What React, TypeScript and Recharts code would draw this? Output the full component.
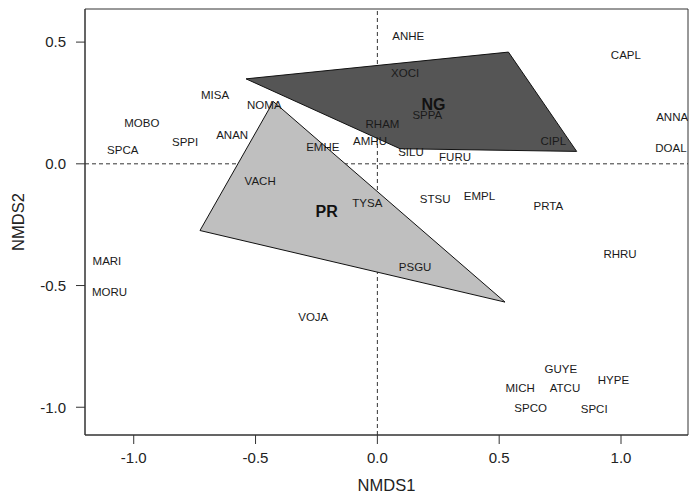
import React from 'react';
import {
  ScatterChart,
  Scatter,
  XAxis,
  YAxis,
  ReferenceLine,
  ReferenceArea,
} from 'recharts';

// species scores (NMDS1, NMDS2)
const speciesNames = [
  'ANHE', 'XOCI', 'SPPA', 'RHAM', 'AMHU', 'SILU', 'FURU', 'NOMA', 'EMHE', 'ANAN',
  'VACH', 'MISA', 'MOBO', 'SPPI', 'SPCA', 'CAPL', 'ANNA', 'DOAL', 'CIPL', 'EMPL',
  'PRTA', 'RHRU', 'STSU', 'TYSA', 'PSGU', 'VOJA', 'MARI', 'MORU', 'GUYE', 'HYPE',
  'MICH', 'ATCU', 'SPCO', 'SPCI',
];
const speciesX = [
  0.127, 0.114, 0.205, 0.021, -0.03, 0.138, 0.319, -0.464, -0.224, -0.596,
  -0.481, -0.666, -0.967, -0.789, -1.045, 1.02, 1.21, 1.205, 0.722, 0.419,
  0.702, 0.996, 0.237, -0.041, 0.155, -0.263, -1.11, -1.099, 0.753, 0.969,
  0.586, 0.77, 0.629, 0.89,
];
const speciesY = [
  0.527, 0.373, 0.199, 0.163, 0.092, 0.048, 0.03, 0.243, 0.071, 0.119,
  -0.07, 0.281, 0.167, 0.089, 0.056, 0.448, 0.194, 0.064, 0.092, -0.132,
  -0.175, -0.371, -0.144, -0.162, -0.422, -0.628, -0.399, -0.525, -0.844, -0.888,
  -0.922, -0.922, -1.004, -1.008,
];

// group centroid labels
const groupNames = ['NG', 'PR'];
const groupX = [0.23, -0.208];
const groupY = [0.243, -0.196];

// convex hulls
const ngHullX = [-0.539, 0.538, 0.818, 0.093];
const ngHullY = [0.349, 0.459, 0.051, 0.062];
const prHullX = [-0.427, -0.728, 0.524];
const prHullY = [0.256, -0.274, -0.568];

const xTicks = [-1, -0.5, 0, 0.5, 1];
const yTicks = [-1, -0.5, 0, 0.5];

const X_DOMAIN: [number, number] = [-1.2, 1.275];
const Y_DOMAIN: [number, number] = [-1.114, 0.636];

const species = speciesNames.map((name, i) => ({ name, x: speciesX[i], y: speciesY[i] }));
const groups = groupNames.map((name, i) => ({ name, x: groupX[i], y: groupY[i] }));
const ngHull = ngHullX.map((x, i) => ({ x, y: ngHullY[i] }));
const prHull = prHullX.map((x, i) => ({ x, y: prHullY[i] }));

const FONT = '"Liberation Sans", Arial, sans-serif';
const AXIS = '#333';

const polygon = (fill: string) => (props: any) => {
  const pts = (props.points || []).map((p: any) => `${p.x},${p.y}`).join(' ');
  return <polygon points={pts} fill={fill} stroke="#111" strokeWidth={1} />;
};

const noDot = () => <g />;

const speciesLabel = (props: any) => (
  <text
    x={props.cx}
    y={props.cy}
    textAnchor="middle"
    dominantBaseline="central"
    fontSize={11.5}
    fontFamily={FONT}
    fill="#1a1a1a"
  >
    {props.payload.name}
  </text>
);

const groupLabel = (props: any) => (
  <text
    x={props.cx}
    y={props.cy}
    textAnchor="middle"
    dominantBaseline="central"
    fontSize={16}
    fontWeight="bold"
    fontFamily={FONT}
    fill="#111"
  >
    {props.payload.name}
  </text>
);

const fmt = (v: number) => v.toFixed(1);

export default function App() {
  return (
    <div style={{ position: 'absolute', left: 0, top: 0, background: '#fff' }}>
      <ScatterChart
        width={689}
        height={494}
        margin={{ top: 9, right: 1, bottom: 0, left: 0 }}
      >
        <XAxis
          type="number"
          dataKey="x"
          domain={X_DOMAIN}
          ticks={xTicks}
          tickFormatter={fmt}
          allowDataOverflow
          height={59}
          tickSize={9}
          tickMargin={8}
          stroke={AXIS}
          tick={{ fill: '#222', fontSize: 15, fontFamily: FONT }}
          label={{
            value: 'NMDS1',
            position: 'insideBottom',
            offset: 3,
            fill: '#222',
            fontSize: 16.5,
            fontFamily: FONT,
          }}
        />
        <YAxis
          type="number"
          dataKey="y"
          domain={Y_DOMAIN}
          ticks={yTicks}
          tickFormatter={fmt}
          allowDataOverflow
          width={85}
          tickSize={9}
          tickMargin={10}
          stroke={AXIS}
          tick={{ fill: '#222', fontSize: 15, fontFamily: FONT }}
          label={{
            value: 'NMDS2',
            angle: -90,
            position: 'insideLeft',
            offset: 18,
            fill: '#222',
            fontSize: 16.5,
            fontFamily: FONT,
            style: { textAnchor: 'middle' },
          }}
        />
        <ReferenceArea
          x1={X_DOMAIN[0]}
          x2={X_DOMAIN[1]}
          y1={Y_DOMAIN[0]}
          y2={Y_DOMAIN[1]}
          fill="none"
          stroke={AXIS}
          strokeWidth={1}
          ifOverflow="visible"
        />
        <Scatter
          data={ngHull}
          line={polygon('#555555')}
          shape={noDot}
          isAnimationActive={false}
        />
        <Scatter
          data={prHull}
          line={polygon('#bfbfbf')}
          shape={noDot}
          isAnimationActive={false}
        />
        <ReferenceLine x={0} stroke={AXIS} strokeDasharray="4 3" />
        <ReferenceLine y={0} stroke={AXIS} strokeDasharray="4 3" />
        <Scatter data={species} shape={speciesLabel} isAnimationActive={false} />
        <Scatter data={groups} shape={groupLabel} isAnimationActive={false} />
      </ScatterChart>
    </div>
  );
}
